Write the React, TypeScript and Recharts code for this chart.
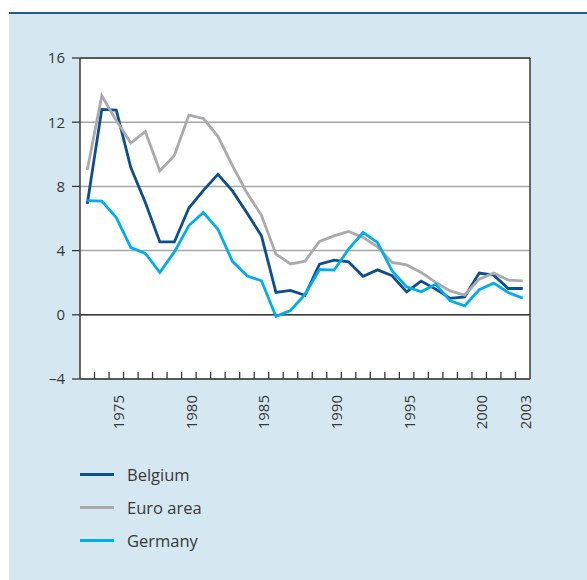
import React from 'react';
import { LineChart, Line, XAxis, YAxis, CartesianGrid, ReferenceLine } from 'recharts';

const years = [1973, 1974, 1975, 1976, 1977, 1978, 1979, 1980, 1981, 1982, 1983, 1984, 1985, 1986, 1987, 1988, 1989, 1990, 1991, 1992, 1993, 1994, 1995, 1996, 1997, 1998, 1999, 2000, 2001, 2002, 2003];
const belgium = [6.9, 12.8, 12.75, 9.17, 7.0, 4.54, 4.54, 6.65, 7.75, 8.75, 7.72, 6.35, 4.92, 1.4, 1.52, 1.22, 3.15, 3.4, 3.3, 2.4, 2.8, 2.43, 1.43, 2.1, 1.6, 1.02, 1.12, 2.6, 2.47, 1.64, 1.64];
const euroArea = [9.02, 13.65, 12.1, 10.7, 11.42, 8.96, 9.92, 12.44, 12.23, 11.12, 9.3, 7.6, 6.2, 3.78, 3.17, 3.34, 4.57, 4.92, 5.19, 4.82, 4.23, 3.26, 3.11, 2.64, 2.02, 1.49, 1.23, 2.22, 2.6, 2.16, 2.12];
const germany = [7.12, 7.08, 6.06, 4.19, 3.82, 2.64, 3.92, 5.56, 6.37, 5.33, 3.33, 2.43, 2.12, -0.1, 0.27, 1.27, 2.82, 2.78, 4.09, 5.13, 4.5, 2.74, 1.74, 1.43, 1.91, 0.87, 0.56, 1.56, 1.97, 1.39, 1.04];
const yTicks = [-4, 0, 4, 8, 12, 16];
const labelYears = [1975, 1980, 1985, 1990, 1995, 2000, 2003];

const seriesNames = ['Belgium', 'Euro area', 'Germany'];
const seriesKeys = ['belgium', 'euro', 'germany'];
const seriesColors = ['#0b4f8f', '#a8aaad', '#00adef'];

const data = years.map((y, i) => ({ year: y, belgium: belgium[i], euro: euroArea[i], germany: germany[i] }));

const FONT = '"Open Sans", "Noto Sans", sans-serif';
const TEXT = '#383838';
const CHART_W = 587;
const LEFT_W = 80;
const RIGHT_W = 57;
const PLOT_W = CHART_W - LEFT_W - RIGHT_W;
const HALF_STEP = PLOT_W / years.length / 2;

const XTick = (props: any) => {
  const { x, y, payload } = props;
  const v = payload.value;
  const last = years[years.length - 1];
  return (
    <g>
      {v < last && (
        <line x1={x + HALF_STEP} x2={x + HALF_STEP} y1={y} y2={y - 7} stroke={TEXT} strokeWidth={1.3} />
      )}
      {labelYears.includes(v) && (
        <text
          transform={`translate(${x + 2},${y + 16}) rotate(-90)`}
          textAnchor="end"
          dominantBaseline="central"
          fontSize={15}
          fontFamily={FONT}
          fill={TEXT}
        >
          {v}
        </text>
      )}
    </g>
  );
};

const fmt = (v: number) => (v < 0 ? `\u2013${Math.abs(v)}` : `${v}`);

export default function App() {
  return (
    <div style={{ position: 'absolute', left: 0, top: 0, width: 587, height: 580, background: '#fff', fontFamily: FONT }}>
      <div style={{ position: 'absolute', left: 9, top: 12, width: 578, height: 2, background: '#1c5c9c' }} />
      <div style={{ position: 'absolute', left: 9, top: 14, width: 578, height: 566, background: '#d5e7f1' }} />
      <div style={{ position: 'absolute', left: 0, top: 0 }}>
        <LineChart width={CHART_W} height={430} data={data} margin={{ top: 58, right: 0, bottom: 0, left: 0 }}>
          <CartesianGrid vertical={false} fill="#ffffff" stroke="#a6a6a6" strokeWidth={1.5} yAxisId="left" />
          <XAxis
            dataKey="year"
            type="number"
            domain={[1972.5, 2003.5]}
            ticks={years}
            interval={0}
            height={51}
            tickSize={0}
            tickMargin={0}
            tick={<XTick />}
            axisLine={{ stroke: TEXT, strokeWidth: 1.5 }}
            tickLine={false}
          />
          <YAxis
            yAxisId="left"
            domain={[-4, 16]}
            ticks={yTicks}
            width={LEFT_W}
            tickSize={8}
            tickMargin={7}
            tickFormatter={fmt}
            tick={{ fontSize: 15, fill: TEXT, fontFamily: FONT }}
            axisLine={{ stroke: TEXT, strokeWidth: 1.5 }}
            tickLine={{ stroke: TEXT, strokeWidth: 1.3 }}
          />
          <YAxis
            yAxisId="right"
            orientation="right"
            domain={[-4, 16]}
            ticks={yTicks}
            width={RIGHT_W}
            tickSize={8}
            tickMargin={7}
            tickFormatter={fmt}
            tick={{ fontSize: 15, fill: TEXT, fontFamily: FONT }}
            axisLine={{ stroke: TEXT, strokeWidth: 1.5 }}
            tickLine={{ stroke: TEXT, strokeWidth: 1.3 }}
          />
          <ReferenceLine yAxisId="left" y={0} stroke={TEXT} strokeWidth={1.5} />
          <ReferenceLine yAxisId="left" y={16} stroke={TEXT} strokeWidth={1.5} />
          {seriesKeys.map((k, i) => (
            <Line
              key={k}
              yAxisId="left"
              dataKey={k}
              stroke={seriesColors[i]}
              strokeWidth={2.8}
              dot={false}
              isAnimationActive={false}
              strokeLinejoin="miter"
            />
          ))}
        </LineChart>
      </div>
      {seriesNames.map((n, i) => (
        <div key={n} style={{ position: 'absolute', left: 80, top: 474 + i * 33.3 - 12, height: 24, display: 'flex', alignItems: 'center' }}>
          <div style={{ width: 34, height: 3, background: seriesColors[i] }} />
          <span style={{ marginLeft: 13, fontSize: 16.5, color: TEXT, fontFamily: FONT }}>{n}</span>
        </div>
      ))}
    </div>
  );
}
